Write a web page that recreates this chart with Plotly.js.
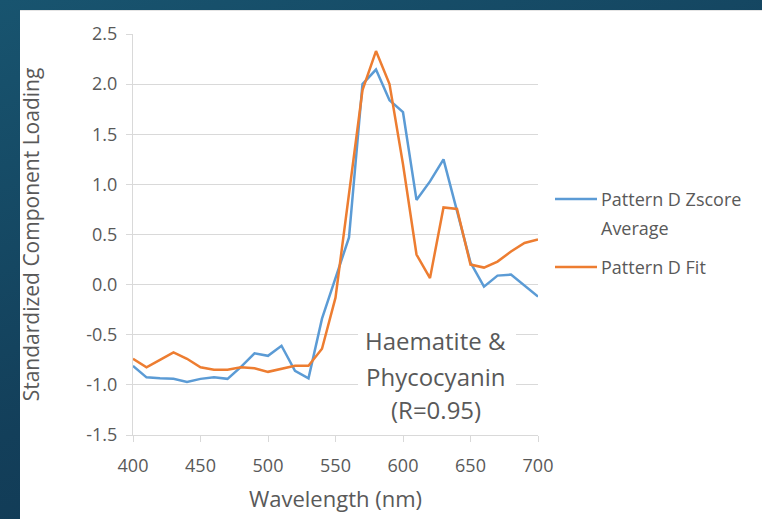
<!DOCTYPE html>
<html>
<head>
<meta charset="utf-8">
<script src="https://cdn.plot.ly/plotly-3.0.1.min.js"></script>
<style>
  html, body { margin: 0; padding: 0; }
  body {
    width: 762px; height: 519px; overflow: hidden;
    background: linear-gradient(160deg, #18546f 0%, #133f5a 55%, #0f3550 100%);
  }
  #chart { width: 762px; height: 519px; }
</style>
</head>
<body>
<div id="chart"></div>
<script>
// Wavelength grid (nm)
const wavelength = [400, 410, 420, 430, 440, 450, 460, 470, 480, 490,
                    500, 510, 520, 530, 540, 550, 560, 570, 580, 590,
                    600, 610, 620, 630, 640, 650, 660, 670, 680, 690, 700];

// Pattern D, z-score average of the component loadings
const zscoreAverage = [-0.81, -0.925, -0.935, -0.94, -0.97, -0.94, -0.925, -0.94, -0.82, -0.685,
                       -0.71, -0.61, -0.86, -0.935, -0.34, 0.07, 0.47, 2.0, 2.145, 1.84,
                       1.72, 0.845, 1.03, 1.25, 0.74, 0.22, -0.02, 0.09, 0.10, -0.01, -0.12];

// Pattern D, fitted haematite + phycocyanin spectrum
const fitValues = [-0.74, -0.825, -0.75, -0.675, -0.74, -0.825, -0.85, -0.85, -0.825, -0.835,
                   -0.87, -0.84, -0.81, -0.81, -0.64, -0.13, 0.88, 1.94, 2.33, 2.0,
                   1.2, 0.3, 0.065, 0.77, 0.755, 0.2, 0.17, 0.23, 0.33, 0.415, 0.45];

const seriesNames = ['Pattern D Zscore', 'Average', 'Pattern D Fit'];
const xTicks = [400, 450, 500, 550, 600, 650, 700];
const yTicks = [-1.5, -1.0, -0.5, 0.0, 0.5, 1.0, 1.5, 2.0, 2.5];
const yTickText = ['-1.5', '-1.0', '-0.5', '0.0', '0.5', '1.0', '1.5', '2.0', '2.5'];
const noteLines = ['Haematite &', 'Phycocyanin', '(R=0.95)'];

const BLUE = '#5b9bd5';
const ORANGE = '#ed7d31';
const TEXT = '#595959';
const GRID = '#d9d9d9';
const FONT = 'Open Sans, sans-serif';

const traces = [
  {
    x: wavelength, y: zscoreAverage, type: 'scatter', mode: 'lines',
    name: seriesNames[0] + ' ' + seriesNames[1],
    line: { color: BLUE, width: 2.5 }, hoverinfo: 'x+y'
  },
  {
    x: wavelength, y: fitValues, type: 'scatter', mode: 'lines',
    name: seriesNames[2],
    line: { color: ORANGE, width: 2.5 }, hoverinfo: 'x+y'
  }
];

// plot-area margins (px) and helpers to place legend items in paper units
const M = { l: 133, r: 224, t: 34, b: 84 };
const W = 762, H = 519;
const pw = W - M.l - M.r, ph = H - M.t - M.b;
const px = v => (v - M.l) / pw;
const py = v => (H - M.b - v) / ph;

const legendRows = [
  { text: seriesNames[0], y: 199, color: BLUE },
  { text: seriesNames[1], y: 228, color: null },
  { text: seriesNames[2], y: 267, color: ORANGE }
];

const shapes = [
  // white slide panel behind the chart
  { type: 'rect', xref: 'paper', yref: 'paper', layer: 'below',
    x0: px(20), x1: px(770), y0: py(530), y1: py(10),
    fillcolor: '#ffffff', line: { width: 0 } },
  { type: 'line', xref: 'paper', yref: 'paper', layer: 'below',
    x0: px(20), x1: px(762), y0: py(10.5), y1: py(10.5),
    line: { color: '#e4e4e4', width: 1 } },
  // white box behind the note text
  { type: 'rect', xref: 'x', yref: 'y', layer: 'above',
    x0: 566.7, x1: 683.7, y0: -1.437, y1: -0.36,
    fillcolor: '#ffffff', line: { width: 0 } }
];

legendRows.forEach(r => {
  if (r.color) {
    shapes.push({ type: 'line', xref: 'paper', yref: 'paper',
      x0: px(555), x1: px(597), y0: py(r.y), y1: py(r.y),
      line: { color: r.color, width: 2.5 } });
  }
});

const annotations = legendRows.map(r => ({
  xref: 'paper', yref: 'paper', x: px(599), y: py(r.y),
  xanchor: 'left', yanchor: 'middle', showarrow: false,
  text: r.text, font: { family: FONT, size: 18, color: TEXT }
}));

const noteY = [-0.56, -0.92, -1.25];
noteLines.forEach((t, i) => {
  annotations.push({
    xref: 'x', yref: 'y', x: 624.4, y: noteY[i],
    xanchor: 'center', yanchor: 'middle', showarrow: false,
    text: t, font: { family: FONT, size: 24, color: TEXT }
  });
});

const layout = {
  width: W, height: H,
  margin: M,
  paper_bgcolor: 'rgba(0,0,0,0)',
  plot_bgcolor: '#ffffff',
  showlegend: false,
  font: { family: FONT, color: TEXT },
  xaxis: {
    range: [400, 700], tickvals: xTicks, ticktext: xTicks.map(String),
    showgrid: false, zeroline: false,
    showline: true, linecolor: GRID, linewidth: 1,
    ticks: 'outside', ticklen: 6, tickcolor: GRID, tickwidth: 1,
    ticklabelstandoff: 8,
    tickfont: { family: FONT, size: 18, color: TEXT },
    title: { text: 'Wavelength (nm)', font: { family: FONT, size: 22, color: TEXT }, standoff: 16 }
  },
  yaxis: {
    range: [-1.5, 2.5], tickvals: yTicks, ticktext: yTickText,
    showgrid: true, gridcolor: GRID, gridwidth: 1, zeroline: false,
    showline: true, linecolor: GRID, linewidth: 1,
    ticks: 'outside', ticklen: 6, tickcolor: GRID, tickwidth: 1,
    ticklabelstandoff: 5,
    tickfont: { family: FONT, size: 18, color: TEXT },
    title: { text: 'Standardized Component Loading', font: { family: FONT, size: 21, color: TEXT }, standoff: 40 }
  },
  shapes: shapes,
  annotations: annotations
};

Plotly.newPlot('chart', traces, layout, { displayModeBar: false, staticPlot: true });
</script>
</body>
</html>
